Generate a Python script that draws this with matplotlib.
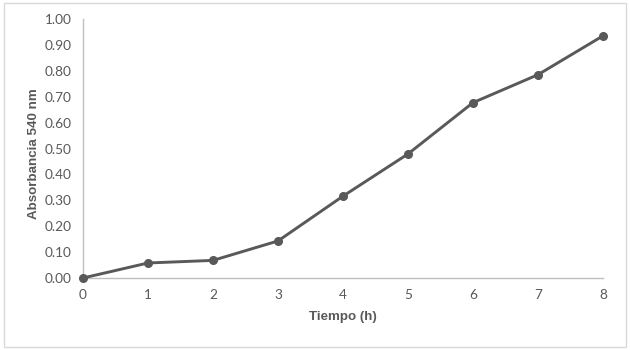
import matplotlib.pyplot as plt
from matplotlib.patches import Rectangle

plt.rcParams.update({
    'font.family': ['Lato', 'DejaVu Sans'],
    'font.size': 9,
})

tiempo = [0, 1, 2, 3, 4, 5, 6, 7, 8]
absorbancia = [0.00, 0.058, 0.068, 0.143, 0.316, 0.479, 0.677, 0.785, 0.935]
y_ticks = [0.0, 0.1, 0.2, 0.3, 0.4, 0.5, 0.6, 0.7, 0.8, 0.9, 1.0]

grey = '#595959'
axis_grey = '#bfbfbf'

fig = plt.figure(figsize=(6.3, 3.5), dpi=100)
ax = fig.add_axes([0.1317, 0.2057, 0.8254, 0.74])

ax.plot(tiempo, absorbancia, '-o', color=grey, lw=2.1, markersize=5.5,
        clip_on=False, zorder=3)

ax.set_xlim(0, 8)
ax.set_ylim(0, 1.0)
ax.set_xticks(tiempo)
ax.set_yticks(y_ticks)
ax.set_yticklabels([f'{t:.2f}' for t in y_ticks])
ax.tick_params(length=0, colors=grey, labelsize=9.8, pad=8)

for side in ['top', 'right']:
    ax.spines[side].set_visible(False)
for side in ['left', 'bottom']:
    ax.spines[side].set_color(axis_grey)
    ax.spines[side].set_linewidth(1)

ax.set_xlabel('Tiempo (h)', fontweight='bold', color=grey, fontsize=9.6,
              family='Liberation Sans', labelpad=7)
ax.set_ylabel('Absorbancia 540 nm', fontweight='bold', color=grey, fontsize=9.6,
              family='Liberation Sans')
ax.yaxis.set_label_coords(-0.082, 0.48)

# chart area border
fig.patches.append(Rectangle((4 / 630, 3 / 350), 622 / 630, 344 / 350,
                             transform=fig.transFigure, fill=False,
                             edgecolor='#d9d9d9', lw=1))

fig.savefig('out.png', dpi=100)
